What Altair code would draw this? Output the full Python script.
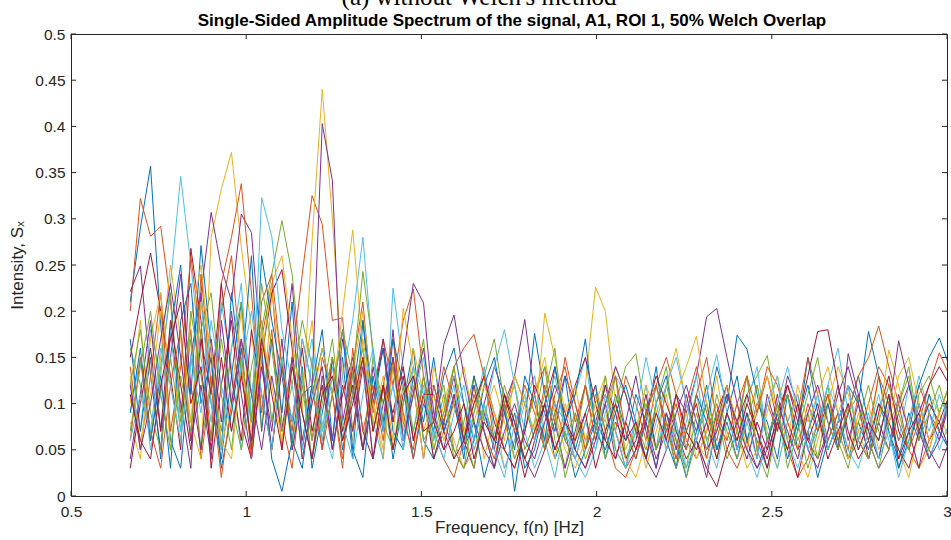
import altair as alt
import pandas as pd

# frequency grid (Hz)
freq = [0.669, 0.698, 0.727, 0.756, 0.784, 0.813, 0.842, 0.871, 0.900, 0.929,
        0.958, 0.986, 1.015, 1.044, 1.073, 1.102, 1.131, 1.160, 1.188, 1.217,
        1.246, 1.275, 1.304, 1.333, 1.362, 1.391, 1.419, 1.448, 1.477, 1.506,
        1.535, 1.564, 1.593, 1.621, 1.650, 1.679, 1.708, 1.737, 1.766, 1.795,
        1.823, 1.852, 1.881, 1.910, 1.939, 1.968, 1.997, 2.025, 2.054, 2.083,
        2.112, 2.141, 2.170, 2.199, 2.227, 2.256, 2.285, 2.314, 2.343, 2.372,
        2.401, 2.429, 2.458, 2.487, 2.516, 2.545, 2.574, 2.603, 2.631, 2.660,
        2.689, 2.718, 2.747, 2.776, 2.805, 2.834, 2.862, 2.891, 2.920, 2.949,
        2.978, 3.007]

B1 = [.21, .29, .357, .186, .06, .03, .15, .22, .10, .04,
      .13, .21, .08, .16, .04, .005, .06, .14, .03, .09,
      .15, .05, .11, .19, .07, .12, .04, .10, .16, .06,
      .04, .07, .10, .05, .08, .02, .06, .05, .09, .03,
      .05, .10, .04, .07, .02, .05, .08, .06, .11, .07,
      .04, .08, .03, .09, .06, .02, .07, .10, .05, .08,
      .04, .09, .06, .03, .08, .11, .05, .07, .02, .06,
      .09, .04, .08, .05, .10, .07, .03, .06, .09, .04,
      .07, .05]
R1 = [.20, .322, .281, .292, .21, .09, .18, .04, .12, .20,
      .26, .14, .05, .17, .23, .08, .03, .13, .06, .15,
      .11, .04, .14, .21, .09, .17, .12, .19, .224, .13,
      .07, .04, .02, .06, .10, .13, .09, .05, .03, .07,
      .11, .14, .10, .06, .04, .08, .12, .07, .03, .02,
      .05, .09, .12, .15, .11, .06, .04, .07, .10, .05,
      .03, .06, .09, .13, .08, .05, .02, .04, .08, .11,
      .07, .04, .06, .10, .14, .12, .08, .05, .03, .06,
      .09, .12]
Y1 = [.10, .19, .06, .15, .25, .17, .08, .04, .28, .332,
      .372, .27, .18, .07, .22, .14, .05, .12, .19, .07,
      .15, .06, .13, .20, .10, .04, .14, .07, .16, .11,
      .05, .10, .14, .07, .12, .04, .09, .03, .06, .11,
      .13, .07, .04, .10, .06, .12, .226, .20, .10, .05,
      .08, .03, .07, .11, .05, .09, .04, .07, .13, .06,
      .10, .05, .12, .07, .03, .08, .11, .06, .04, .10,
      .07, .04, .09, .06, .13, .08, .05, .02, .07, .11,
      .09, .06]
P1 = [.221, .249, .13, .05, .18, .10, .03, .22, .307, .247,
      .211, .305, .285, .15, .05, .14, .23, .09, .04, .13,
      .06, .17, .11, .05, .14, .08, .18, .06, .12, .04,
      .12, .08, .05, .03, .06, .10, .14, .11, .07, .04,
      .02, .05, .09, .13, .10, .06, .08, .12, .07, .03,
      .05, .08, .04, .07, .11, .09, .13, .194, .203, .15,
      .10, .06, .03, .05, .08, .12, .09, .06, .04, .07,
      .11, .14, .10, .06, .03, .05, .09, .12, .08, .05,
      .03, .06]
G1 = [.16, .12, .06, .14, .22, .08, .17, .05, .13, .07,
      .16, .21, .11, .18, .24, .298, .24, .13, .06, .11,
      .17, .07, .13, .05, .15, .10, .14, .06, .11, .17,
      .06, .11, .04, .08, .13, .07, .03, .09, .12, .05,
      .08, .14, .06, .03, .09, .05, .11, .07, .13, .04,
      .07, .10, .05, .12, .08, .02, .06, .10, .04, .09,
      .06, .11, .13, .152, .09, .05, .08, .03, .07, .12,
      .05, .09, .11, .06, .03, .08, .10, .14, .07, .05,
      .09, .12]
L1 = [.125, .07, .18, .13, .23, .346, .25, .15, .08, .21,
      .14, .05, .11, .18, .08, .15, .05, .12, .17, .07,
      .14, .06, .11, .16, .08, .04, .225, .14, .07, .12,
      .04, .08, .12, .05, .09, .14, .07, .03, .06, .10,
      .13, .06, .02, .08, .11, .15, .07, .10, .05, .03,
      .07, .12, .05, .09, .04, .08, .13, .06, .03, .09,
      .05, .10, .14, .06, .03, .08, .11, .05, .07, .12,
      .16, .09, .05, .08, .04, .10, .06, .12, .08, .04,
      .07, .11]
D1 = [.15, .21, .263, .20, .13, .05, .268, .19, .03, .12,
      .19, .08, .04, .15, .22, .245, .16, .06, .12, .05,
      .15, .07, .12, .05, .11, .16, .08, .13, .06, .11,
      .04, .08, .13, .06, .03, .09, .05, .11, .07, .02,
      .06, .10, .14, .08, .05, .03, .07, .12, .09, .04,
      .06, .11, .05, .08, .03, .07, .10, .04, .09, .12,
      .07, .04, .08, .05, .11, .06, .02, .07, .10, .05,
      .08, .12, .06, .04, .09, .13, .07, .05, .10, .06,
      .08, .11]
B2 = [.17, .07, .15, .04, .18, .25, .11, .271, .16, .05,
      .22, .13, .26, .07, .17, .09, .21, .05, .12, .18,
      .06, .15, .04, .19, .10, .16, .07, .05, .13, .08,
      .15, .07, .11, .04, .13, .09, .06, .10, .005, .08,
      .176, .11, .07, .13, .05, .09, .12, .04, .08, .06,
      .11, .08, .14, .06, .03, .10, .07, .12, .05, .09,
      .13, .06, .10, .08, .04, .11, .07, .15, .09, .05,
      .08, .12, .10, .178, .13, .07, .04, .09, .06, .11,
      .07, .05]
R2 = [.14, .05, .13, .22, .07, .14, .26, .17, .06, .23,
      .28, .338, .22, .09, .18, .05, .15, .24, .325, .294,
      .19, .193, .07, .15, .04, .12, .17, .08, .05, .13,
      .08, .14, .10, .06, .11, .07, .04, .09, .13, .10,
      .06, .12, .08, .15, .10, .05, .09, .11, .07, .13,
      .10, .06, .12, .08, .04, .10, .14, .09, .06, .11,
      .08, .13, .05, .10, .07, .12, .09, .15, .11, .06,
      .09, .05, .11, .07, .13, .10, .06, .08, .12, .09,
      .07, .10]
Y2 = [.08, .04, .17, .22, .12, .06, .19, .25, .14, .05,
      .11, .20, .07, .15, .23, .26, .17, .09, .277, .44,
      .30, .13, .06, .17, .10, .05, .15, .08, .12, .04,
      .14, .10, .06, .03, .05, .09, .12, .08, .04, .07,
      .11, .15, .09, .05, .03, .06, .10, .13, .07, .04,
      .02, .06, .09, .12, .16, .10, .06, .04, .08, .11,
      .07, .03, .05, .09, .13, .08, .05, .02, .06, .10,
      .14, .11, .07, .04, .08, .158, .12, .07, .03, .05,
      .09, .12]
P2 = [.04, .11, .19, .07, .15, .24, .12, .05, .17, .08,
      .20, .11, .04, .14, .07, .17, .05, .11, .12, .403,
      .341, .08, .14, .05, .11, .17, .08, .15, .23, .209,
      .09, .05, .11, .06, .12, .07, .03, .10, .13, .191,
      .11, .05, .08, .03, .07, .12, .06, .10, .04, .08,
      .13, .07, .03, .09, .05, .11, .06, .02, .08, .12,
      .05, .09, .04, .11, .07, .13, .10, .05, .03, .07,
      .12, .06, .10, .04, .08, .05, .11, .07, .03, .09,
      .06, .11]
G2 = [.12, .18, .09, .05, .15, .07, .20, .13, .06, .17,
      .10, .05, .14, .19, .08, .15, .06, .12, .04, .10,
      .15, .06, .11, .16, .07, .12, .05, .10, .14, .06,
      .08, .12, .05, .03, .09, .13, .17, .10, .04, .07,
      .11, .05, .09, .02, .06, .12, .08, .04, .10, .14,
      .154, .09, .05, .08, .03, .07, .11, .06, .09, .04,
      .07, .13, .05, .02, .08, .11, .06, .09, .04, .10,
      .06, .03, .08, .12, .07, .05, .10, .13, .06, .09,
      .12, .08]
L2 = [.09, .15, .05, .11, .18, .07, .14, .21, .10, .05,
      .16, .23, .08, .323, .281, .18, .12, .05, .15, .08,
      .04, .13, .19, .28, .15, .07, .12, .05, .11, .15,
      .06, .09, .13, .10, .05, .08, .14, .18, .12, .07,
      .03, .06, .10, .08, .04, .02, .05, .09, .13, .11,
      .07, .04, .08, .12, .15, .10, .06, .03, .07, .11,
      .08, .05, .02, .06, .10, .14, .09, .05, .08, .12,
      .09, .05, .03, .07, .11, .06, .04, .08, .13, .09,
      .05, .08]
D2 = [.03, .10, .16, .07, .19, .12, .05, .17, .11, .23,
      .13, .06, .18, .11, .05, .14, .08, .16, .07, .12,
      .05, .11, .15, .07, .04, .12, .09, .14, .06, .11,
      .11, .07, .04, .06, .10, .13, .08, .05, .03, .07,
      .12, .09, .05, .08, .12, .15, .10, .06, .04, .08,
      .05, .09, .13, .10, .07, .04, .06, .03, .01, .05,
      .08, .11, .07, .04, .09, .12, .08, .13, .178, .18,
      .12, .07, .04, .06, .10, .08, .05, .03, .07, .10,
      .08, .05]
B3 = [.09, .16, .06, .13, .03, .19, .23, .10, .15, .03,
      .09, .16, .05, .26, .19, .13, .06, .03, .11, .16,
      .11, .18, .05, .02, .13, .07, .17, .12, .04, .10,
      .07, .13, .16, .10, .06, .12, .15, .09, .05, .13,
      .10, .06, .14, .08, .11, .17, .07, .05, .09, .12,
      .08, .04, .10, .13, .07, .05, .11, .08, .14, .10,
      .174, .159, .11, .06, .09, .04, .08, .12, .07, .10,
      .05, .09, .13, .08, .06, .11, .03, .07, .12, .15,
      .171, .14]
R3 = [.06, .15, .07, .03, .12, .18, .06, .24, .12, .02,
      .10, .17, .04, .21, .24, .14, .07, .17, .12, .05,
      .11, .03, .16, .07, .12, .06, .15, .09, .04, .11,
      .12, .08, .14, .16, .175, .13, .06, .10, .07, .12,
      .09, .05, .11, .14, .08, .12, .06, .10, .13, .07,
      .04, .09, .12, .07, .10, .05, .11, .15, .08, .06,
      .10, .13, .09, .14, .12, .08, .05, .10, .07, .11,
      .06, .09, .13, .15, .184, .14, .10, .05, .08, .12,
      .155, .13]
Y3 = [.13, .06, .11, .20, .05, .15, .08, .21, .16, .06,
      .04, .14, .08, .18, .12, .06, .15, .04, .10, .16,
      .11, .20, .288, .16, .08, .13, .06, .203, .14, .07,
      .11, .06, .10, .14, .08, .12, .09, .06, .13, .10,
      .07, .198, .15, .09, .12, .06, .10, .08, .14, .11,
      .07, .12, .09, .05, .11, .14, .173, .10, .07, .12,
      .08, .05, .10, .13, .09, .06, .12, .08, .11, .14,
      .09, .12, .07, .10, .05, .08, .13, .15, .10, .06,
      .09, .12]
P3 = [.12, .05, .10, .17, .23, .15, .06, .12, .04, .19,
      .10, .17, .11, .05, .13, .07, .15, .04, .10, .14,
      .05, .12, .07, .14, .04, .10, .15, .06, .11, .16,
      .08, .164, .196, .13, .08, .05, .03, .07, .10, .06,
      .04, .08, .12, .09, .05, .03, .06, .10, .14, .11,
      .07, .04, .02, .05, .09, .12, .08, .05, .07, .11,
      .08, .05, .03, .06, .10, .07, .04, .09, .12, .08,
      .05, .154, .11, .07, .04, .09, .168, .12, .07, .04,
      .06, .10]
G3 = [.07, .14, .20, .11, .05, .13, .07, .18, .22, .11,
      .05, .15, .08, .23, .16, .07, .12, .19, .14, .06,
      .11, .18, .13, .243, .16, .08, .05, .12, .07, .13,
      .05, .09, .14, .07, .03, .10, .06, .12, .08, .04,
      .07, .11, .16, .06, .09, .04, .07, .13, .05, .03,
      .08, .05, .10, .14, .06, .03, .09, .05, .11, .07,
      .04, .08, .12, .06, .10, .03, .07, .11, .15, .08,
      .05, .10, .06, .04, .08, .12, .09, .05, .11, .13,
      .09, .12]
L3 = [.06, .11, .07, .16, .12, .06, .15, .09, .19, .12,
      .07, .14, .20, .11, .05, .15, .08, .17, .12, .06,
      .13, .08, .04, .11, .16, .07, .12, .06, .14, .11,
      .07, .04, .09, .12, .06, .10, .05, .02, .08, .11,
      .06, .09, .13, .07, .04, .08, .05, .11, .07, .03,
      .09, .15, .10, .05, .08, .03, .06, .11, .153, .09,
      .05, .08, .04, .10, .13, .06, .03, .07, .11, .05,
      .08, .12, .06, .09, .04, .07, .02, .06, .10, .07,
      .11, .08]
D3 = [.11, .06, .04, .12, .17, .21, .10, .14, .05, .15,
      .07, .13, .06, .17, .11, .05, .14, .09, .04, .11,
      .13, .06, .10, .15, .07, .12, .05, .11, .13, .07,
      .08, .05, .07, .10, .04, .08, .06, .11, .08, .04,
      .07, .10, .05, .08, .06, .09, .03, .07, .10, .06,
      .08, .04, .09, .06, .11, .07, .05, .08, .04, .09,
      .06, .10, .07, .03, .08, .05, .10, .06, .09, .04,
      .07, .10, .05, .08, .06, .11, .04, .07, .09, .12,
      .14, .12]

x_ticks = [0.5, 1, 1.5, 2, 2.5, 3]
y_ticks = [0, 0.05, 0.1, 0.15, 0.2, 0.25, 0.3, 0.35, 0.4, 0.45, 0.5]

palette = ["#0072BD", "#D95319", "#EDB120", "#7E2F8E", "#77AC30", "#4DBEEE", "#A2142F"]

series = [("B1", B1), ("R1", R1), ("Y1", Y1), ("P1", P1), ("G1", G1), ("L1", L1), ("D1", D1),
          ("B2", B2), ("R2", R2), ("Y2", Y2), ("P2", P2), ("G2", G2), ("L2", L2), ("D2", D2),
          ("B3", B3), ("R3", R3), ("Y3", Y3), ("P3", P3), ("G3", G3), ("L3", L3), ("D3", D3)]

rows = []
for i, (name, vals) in enumerate(series):
    assert len(vals) == len(freq), (name, len(vals))
    for f, v in zip(freq, vals):
        rows.append({"s": name, "f": f, "v": v})
df = pd.DataFrame(rows)

names = [n for n, _ in series]
colors = [palette[i % 7] for i in range(len(series))]

W, H = 876, 462
AX = "#262626"
x_scale = alt.Scale(domain=[0.5, 3], nice=False, zero=False)
y_scale = alt.Scale(domain=[0, 0.5], nice=False, zero=False)

axis_common = dict(format="~g", ticks=False, tickSize=0, grid=False, domain=False,
                   labelFlush=False, labelOverlap=False,
                   labelFont="Liberation Sans", labelFontSize=15.5, labelColor=AX,
                   titleFont="Liberation Sans", titleFontSize=17, titleColor=AX,
                   titleFontWeight="normal")
x_axis = alt.Axis(values=x_ticks, title="Frequency, f(n) [Hz]", labelPadding=8, titlePadding=0, **axis_common)
y_axis = alt.Axis(values=y_ticks, title="Intensity, Sₓ", labelPadding=6, titlePadding=8, **axis_common)

lines = alt.Chart(df).mark_line(strokeWidth=1, clip=True).encode(
    x=alt.X("f:Q", scale=x_scale, axis=x_axis),
    y=alt.Y("v:Q", scale=y_scale, axis=y_axis),
    color=alt.Color("s:N", scale=alt.Scale(domain=names, range=colors), legend=None),
)

xt = pd.DataFrame({"t": x_ticks})
yt = pd.DataFrame({"t": y_ticks})

xtb = alt.Chart(xt).mark_rule(color=AX, strokeWidth=1).encode(
    x=alt.X("t:Q", scale=x_scale, axis=x_axis), y=alt.value(H), y2=alt.value(H - 5))
xtt = alt.Chart(xt).mark_rule(color=AX, strokeWidth=1).encode(
    x=alt.X("t:Q", scale=x_scale, axis=x_axis), y=alt.value(0), y2=alt.value(5))
ytl = alt.Chart(yt).mark_rule(color=AX, strokeWidth=1).encode(
    y=alt.Y("t:Q", scale=y_scale, axis=y_axis), x=alt.value(0), x2=alt.value(5))
ytr = alt.Chart(yt).mark_rule(color=AX, strokeWidth=1).encode(
    y=alt.Y("t:Q", scale=y_scale, axis=y_axis), x=alt.value(W), x2=alt.value(W - 5))

title_txt = alt.Chart(pd.DataFrame({"t": ["Single-Sided Amplitude Spectrum of the signal, A1, ROI 1, 50% Welch Overlap"]})).mark_text(
    font="Liberation Sans", fontSize=17, fontWeight="bold", color="#000000", align="center", baseline="alphabetic"
).encode(text="t:N", x=alt.value(441), y=alt.value(-8))

cap_txt = alt.Chart(pd.DataFrame({"t": ["(a) without Welch's method"]})).mark_text(
    font="Liberation Serif", fontSize=25, color="#000000", align="center", baseline="alphabetic"
).encode(text="t:N", x=alt.value(408), y=alt.value(-29))

chart = alt.layer(lines, xtb, xtt, ytl, ytr, title_txt, cap_txt).properties(
    width=W, height=H,
    autosize=alt.AutoSizeParams(type="none"),
    padding={"left": 71, "top": 34, "right": 4, "bottom": 44},
).configure_view(
    stroke=AX, strokeWidth=1
)

chart.save("out.html", embed_options={"renderer": "svg", "actions": False})
